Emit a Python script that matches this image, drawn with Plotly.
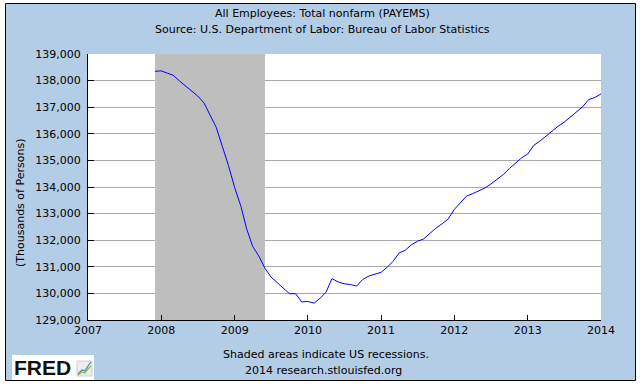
import plotly.graph_objects as go

# ---- data (monthly, thousands of persons) ----
start_year, start_month = 2007, 12
payems = [
    138350,
    138365, 138279, 138199, 137985, 137803, 137631, 137421, 137162, 136710, 136245, 135516, 134810,
    133976, 133275, 132449, 131765, 131411, 130944, 130617, 130404, 130189, 129988, 129989, 129679,
    129698, 129633, 129805, 130038, 130554, 130432, 130363, 130335, 130275, 130524, 130653, 130724,
    130793, 130989, 131200, 131522, 131622, 131829, 131957, 132049, 132269, 132451, 132615, 132797,
    133157, 133416, 133653, 133748, 133866, 133959, 134112, 134304, 134467, 134691, 134907, 135096,
    135243, 135575, 135716, 135913, 136092, 136285, 136434, 136630, 136794, 137014, 137288, 137363,
    137499,
]
dates = []
y, m = start_year, start_month
for _ in payems:
    dates.append(f"{y:04d}-{m:02d}-01")
    m += 1
    if m > 12:
        m, y = 1, y + 1

recession_start = "2007-12-01"
recession_end = "2009-06-01"
y_min, y_max = 129000, 139000
year_ticks = [f"{yr}-01-01" for yr in range(2007, 2015)]
year_labels = [str(yr) for yr in range(2007, 2015)]

title1 = "All Employees: Total nonfarm (PAYEMS)"
title2 = "Source: U.S. Department of Labor: Bureau of Labor Statistics"
foot1 = "Shaded areas indicate US recessions."
foot2 = "2014 research.stlouisfed.org"

# ---- layout geometry ----
W, H = 641, 386
L, R, T, B = 88, 40, 54, 66
PW, PH = W - L - R, H - T - B

def px(x):
    return (x - L) / PW

def py(yp):
    return (H - B - yp) / PH

BLUE = "#B4CDE6"
FONT = "DejaVu Sans"

fig = go.Figure()
# recession band (above gridlines, below the series)
fig.add_trace(go.Scatter(
    x=[recession_start, recession_end, recession_end, recession_start, recession_start],
    y=[y_min, y_min, y_max, y_max, y_min],
    mode="lines", fill="toself", fillcolor="#BEBEBE", line=dict(width=0, color="#BEBEBE"),
    hoverinfo="skip"))
fig.add_trace(go.Scatter(x=dates, y=payems, mode="lines",
                         line=dict(color="#0000FF", width=1), hoverinfo="skip"))

shapes = [
    # outer blue panel with black border
    dict(type="rect", xref="paper", yref="paper", x0=px(5.5), x1=px(635.5),
         y0=py(380.5), y1=py(3.5), fillcolor=BLUE, line=dict(color="black", width=1),
         layer="below"),
    # white plot area
    dict(type="rect", xref="paper", yref="paper", x0=0, x1=1, y0=0, y1=1,
         fillcolor="white", line=dict(width=0), layer="below"),
    # FRED logo box
    dict(type="rect", xref="paper", yref="paper", x0=px(12), x1=px(94),
         y0=py(380), y1=py(355), fillcolor="white", line=dict(width=0), layer="above"),
    # small icon
    dict(type="rect", xref="paper", yref="paper", x0=px(77), x1=px(92),
         y0=py(376), y1=py(361), fillcolor="#EDEDED", line=dict(color="#CFCFCF", width=1),
         layer="above"),
    dict(type="path", xref="paper", yref="paper",
         path=f"M {px(78)},{py(374)} L {px(82)},{py(370)} L {px(85)},{py(371)} L {px(88)},{py(366)} L {px(91)},{py(362)}",
         line=dict(color="#4A7FC0", width=1.2), layer="above"),
    dict(type="path", xref="paper", yref="paper",
         path=f"M {px(78)},{py(375)} L {px(82)},{py(372)} L {px(85)},{py(373)} L {px(88)},{py(369)} L {px(91)},{py(366)}",
         line=dict(color="#8DBF3E", width=1.2), layer="above"),
]

annotations = [
    dict(text=title1, x=px(322), y=py(13), xref="paper", yref="paper", showarrow=False,
         font=dict(family=FONT, size=11, color="black"), xanchor="center", yanchor="middle"),
    dict(text=title2, x=px(322), y=py(29), xref="paper", yref="paper", showarrow=False,
         font=dict(family=FONT, size=11, color="black"), xanchor="center", yanchor="middle"),
    dict(text=foot1, x=px(326), y=py(354), xref="paper", yref="paper", showarrow=False,
         font=dict(family=FONT, size=11, color="black"), xanchor="center", yanchor="middle"),
    dict(text=foot2, x=px(323), y=py(370), xref="paper", yref="paper", showarrow=False,
         font=dict(family=FONT, size=11, color="black"), xanchor="center", yanchor="middle"),
    dict(text="(Thousands of Persons)", x=px(20), y=py(203), xref="paper", yref="paper",
         showarrow=False, textangle=-90,
         font=dict(family=FONT, size=11, color="black"), xanchor="center", yanchor="middle"),
    dict(text="<b>FRED</b>", x=px(12), y=py(367.5), xref="paper", yref="paper", showarrow=False,
         font=dict(family="Liberation Sans", size=21, color="#111111"),
         xanchor="left", yanchor="middle"),
]

fig.update_layout(
    width=W, height=H,
    margin=dict(l=L, r=R, t=T, b=B, pad=0),
    paper_bgcolor="white", plot_bgcolor="white",
    showlegend=False,
    shapes=shapes, annotations=annotations,
    font=dict(family=FONT, size=11, color="black"),
    xaxis=dict(type="date", range=["2007-01-01", "2014-01-01"],
               tickmode="array", tickvals=year_ticks, ticktext=year_labels,
               ticks="inside", ticklen=5, tickcolor="black", tickwidth=1,
               showline=True, linecolor="black", linewidth=1,
               showgrid=False, zeroline=False, fixedrange=True,
               tickfont=dict(family=FONT, size=11, color="black")),
    yaxis=dict(range=[y_min, y_max], dtick=1000, tick0=y_min,
               tickformat=",d", ticks="inside", ticklen=6, tickcolor="black", tickwidth=1,
               showline=True, linecolor="black", linewidth=1,
               showgrid=True, gridcolor="#A8A8A8", gridwidth=1, zeroline=False,
               fixedrange=True, ticklabelstandoff=4,
               tickfont=dict(family=FONT, size=11, color="black")),
)

fig.write_html("out.html", config={"displayModeBar": False},
               post_script="document.body.style.margin='0px';document.body.style.overflow='hidden';")
